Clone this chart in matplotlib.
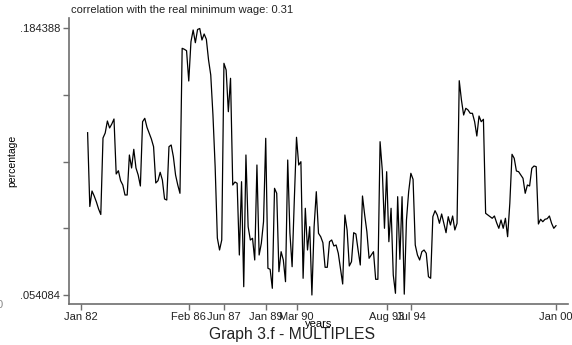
import matplotlib
matplotlib.use("Agg")
import matplotlib.pyplot as plt
import numpy as np
import pandas as pd

plt.rcParams['font.family'] = ['Liberation Sans', 'DejaVu Sans']

# monthly series, Apr 1982 - Jan 2000
start = "1982-04"
values = [
    0.13344, 0.09736, 0.10493, 0.10249, 0.09956, 0.09613, 0.09344, 0.13085, 0.13329, 0.13916,
    0.13574, 0.13769, 0.14014, 0.11325, 0.11486, 0.10997, 0.10787, 0.10298, 0.10298, 0.12254,
    0.11618, 0.12532, 0.11618, 0.11276, 0.10738, 0.13882, 0.14048, 0.13608, 0.13329, 0.13036,
    0.12659, 0.10885, 0.10997, 0.11408, 0.11031, 0.10102, 0.10053, 0.12659, 0.12743, 0.12170,
    0.11276, 0.10787, 0.10381, 0.17471, 0.17422, 0.17353, 0.15872, 0.17793, 0.18365, 0.17744,
    0.18390, 0.184388, 0.17876, 0.18170, 0.17911, 0.16899, 0.16165, 0.14209, 0.11682, 0.08195,
    0.07609, 0.08098, 0.16737, 0.16410, 0.14371, 0.16004, 0.10787, 0.10933, 0.10870, 0.07364,
    0.10948, 0.05814, 0.12254, 0.08748, 0.08098, 0.08181, 0.07120, 0.11765, 0.07364, 0.07936,
    0.08992, 0.13070, 0.06714, 0.06665, 0.05736, 0.10625, 0.10381, 0.06548, 0.07526, 0.07120,
    0.06059, 0.12009, 0.08440, 0.06792, 0.10053, 0.13119, 0.11765, 0.11926, 0.06225, 0.09648,
    0.07609, 0.08748, 0.054084, 0.08748, 0.10459, 0.08425, 0.08259, 0.07966, 0.06763, 0.06763,
    0.08014, 0.08098, 0.07804, 0.07853, 0.07447, 0.06714, 0.05946, 0.09320, 0.08587, 0.06826,
    0.07037, 0.08455, 0.08391, 0.07609, 0.06875, 0.10249, 0.09320, 0.08503, 0.07203, 0.07364,
    0.07526, 0.06176, 0.06176, 0.12904, 0.11520, 0.08670, 0.11437, 0.08014, 0.09648, 0.06386,
    0.05492, 0.10215, 0.07154, 0.10215, 0.05450, 0.09075, 0.10459, 0.11359, 0.11065, 0.07853,
    0.07364, 0.07120, 0.07526, 0.07609, 0.07447, 0.06303, 0.06225, 0.09237, 0.09530, 0.09320,
    0.08914, 0.09369, 0.08914, 0.08455, 0.09237, 0.08831, 0.09271, 0.08587, 0.08914, 0.15886,
    0.14943, 0.14209, 0.14537, 0.14454, 0.14292, 0.14292, 0.13882, 0.13182, 0.14160, 0.13882,
    0.13999, 0.09403, 0.09320, 0.09237, 0.09159, 0.09271, 0.08943, 0.08670, 0.09075, 0.08670,
    0.09159, 0.08259, 0.09892, 0.12288, 0.12092, 0.11471, 0.11437, 0.11276, 0.11114, 0.10381,
    0.10787, 0.10738, 0.11603, 0.11716, 0.11682, 0.08880, 0.09110, 0.08992, 0.09110, 0.09139,
    0.09271, 0.08914, 0.08670, 0.08797,
]

tick_dates = ["1982-01", "1986-02", "1987-06", "1989-01", "1990-03", "1993-08", "1994-07", "2000-01"]
tick_labels = ["Jan 82", "Feb 86", "Jun 87", "Jan 89", "Mar 90", "Aug 93", "Jul 94", "Jan 00"]
y_min, y_max = 0.054084, 0.184388

base = pd.Period("1982-01", freq="M")
def month_idx(s):
    return (pd.Period(s, freq="M") - base).n

x0 = month_idx(start)
x = np.arange(x0, x0 + len(values))
xt = [month_idx(d) for d in tick_dates]

fig = plt.figure(figsize=(5.72, 3.45), dpi=100)
ax = fig.add_axes([69/572, 1 - 303.5/345, (568 - 69)/572, (303.5 - 18)/345])
ax.plot(x, values, color="black", lw=0.9)

ax.set_xlim(-5.46, 221.46)
ax.set_ylim(0.049928, 0.18952)

for s in ["top", "right"]:
    ax.spines[s].set_visible(False)
for s in ["left", "bottom"]:
    ax.spines[s].set_color("#6e6e6e")
    ax.spines[s].set_linewidth(1.2)

yt = np.linspace(y_min, y_max, 5)
ax.set_yticks(yt)
ax.set_yticklabels([".054084", "", "", "", ".184388"])
ax.set_xticks(xt)
ax.set_xticklabels(tick_labels)
ax.tick_params(axis="both", colors="#222222", labelsize=8, length=4.5, width=1, pad=2)
ax.tick_params(axis="both", color="#6e6e6e")
ax.tick_params(axis="x", pad=1.5)

ax.set_xlabel("years", fontsize=8, labelpad=-2)
ax.set_ylabel("percentage", fontsize=7.5, labelpad=6)
ax.yaxis.set_label_coords(-0.103, 0.5)

fig.text(71/572, 1 - 10/345, "correlation with the real minimum wage: 0.31",
         fontsize=8, ha="left", va="center", color="#222222")
fig.text(292/572, 1 - 334/345, "Graph 3.f - MULTIPLES", fontsize=11.3,
         ha="center", va="center", color="#222222")
# clipped glyph at the left edge of the original
fig.text(-3/572, 1 - 305/345, "0", fontsize=8, ha="left", va="center", color="#888888")

fig.savefig("out.png", dpi=100)
